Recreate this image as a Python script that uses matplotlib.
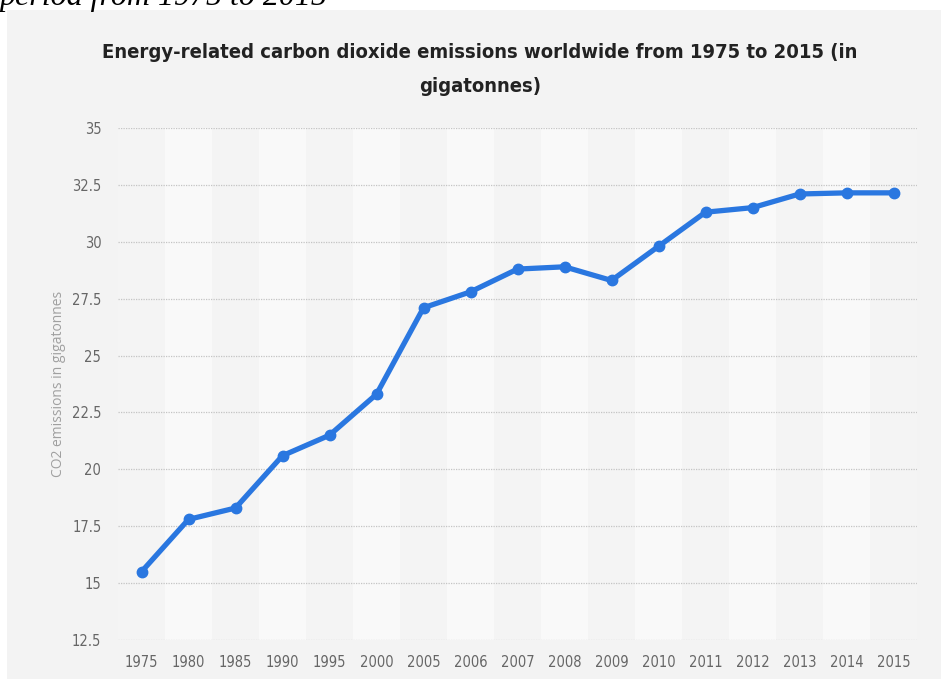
import matplotlib
matplotlib.use("Agg")
import matplotlib.pyplot as plt
from matplotlib.patches import Rectangle

years = ["1975", "1980", "1985", "1990", "1995", "2000", "2005", "2006", "2007",
         "2008", "2009", "2010", "2011", "2012", "2013", "2014", "2015"]
emissions = [15.5, 17.8, 18.3, 20.6, 21.5, 23.3, 27.1, 27.8, 28.8,
             28.9, 28.3, 29.8, 31.3, 31.5, 32.1, 32.15, 32.15]
y_ticks = [12.5, 15, 17.5, 20, 22.5, 25, 27.5, 30, 32.5, 35]
y_tick_labels = ["12.5", "15", "17.5", "20", "22.5", "25", "27.5", "30", "32.5", "35"]

W, H = 941, 679
fig = plt.figure(figsize=(W / 100, H / 100), dpi=100)
fig.patch.set_facecolor("white")

# grey panel
fig.patches.append(Rectangle((7 / W, 0), 1 - 7 / W, 1 - 10 / H,
                             transform=fig.transFigure, facecolor="#f3f3f3",
                             edgecolor="none", zorder=-10))

# cut-off caption at the top
fig.text(0.0, 1 - 4.5 / H, "period from 1975 to 2015", family="Liberation Serif",
         style="italic", fontsize=23, ha="left", va="baseline", color="black",
         zorder=-5)

left, right, top, bottom = 118, 917, 128, 640
ax = fig.add_axes([left / W, 1 - bottom / H, (right - left) / W, (bottom - top) / H])
ax.set_facecolor("none")
ax.set_zorder(1)

x = list(range(len(years)))
for i in x:
    ax.axvspan(i - 0.5, i + 0.5, color="#f9f9f9" if i % 2 == 1 else "#f4f4f4",
               zorder=0, lw=0)

for yv in y_ticks:
    ax.axhline(yv, color="#c4c4c4", lw=0.9, ls=(0, (1, 1)), zorder=1)

ax.plot(x, emissions, color="#2a77e0", lw=3.8, marker="o", markersize=7.5,
        zorder=3, solid_joinstyle="round")

ax.set_xlim(-0.5, len(years) - 0.5)
ax.set_ylim(12.5, 35)
ax.set_xticks(x)
ax.set_xticklabels(years)
ax.set_yticks(y_ticks)
ax.set_yticklabels(y_tick_labels)
for s in ax.spines.values():
    s.set_visible(False)
ax.tick_params(length=0, colors="#666666", labelsize=10.5)
ax.tick_params(axis="y", pad=12)
ax.tick_params(axis="x", pad=11)
for lab in ax.get_xticklabels() + ax.get_yticklabels():
    lab.set_fontstretch("condensed")
    lab.set_family("DejaVu Sans")

fig.text(58 / W, 1 - 384 / H, "CO2 emissions in gigatonnes", rotation=90,
         family="Open Sans", fontsize=10, color="#a0a0a0", ha="center", va="center")

fig.text(480 / W, 1 - 52 / H,
         "Energy-related carbon dioxide emissions worldwide from 1975 to 2015 (in",
         fontsize=14.5, fontweight="bold", color="#222222", ha="center", va="center",
         fontstretch="condensed")
fig.text(480 / W, 1 - 87 / H, "gigatonnes)", fontsize=14.5, fontweight="bold",
         color="#222222", ha="center", va="center", fontstretch="condensed")

fig.savefig("out.png", dpi=100, facecolor="white")
